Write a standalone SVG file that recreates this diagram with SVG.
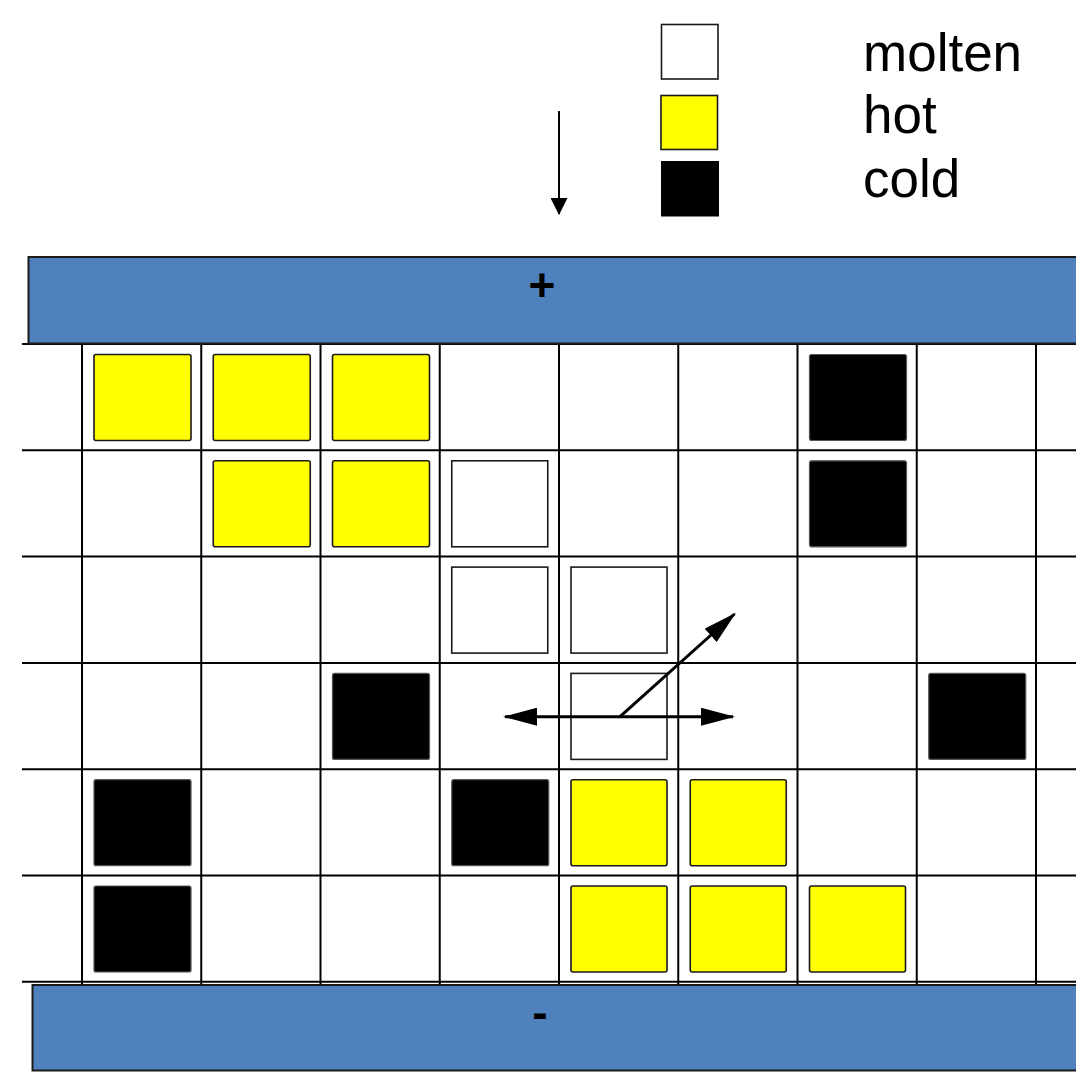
<svg xmlns="http://www.w3.org/2000/svg" width="1076" height="1080" viewBox="0 0 1076 1080">
<style>
  .grid line { stroke:#000; stroke-width:2; }
  .bar { fill:#4f81bd; stroke:#1a1a1a; stroke-width:2; }
  .hot { fill:#ffff00; stroke:#1a1a1a; stroke-width:1.6; }
  .cold { fill:#000; stroke:#555; stroke-width:1.2; }
  .molten { fill:#fff; stroke:#1a1a1a; stroke-width:1.6; }
  .lbl { font-family:"Liberation Sans", Arial, sans-serif; font-size:53px; fill:#000; }
  .sign { font-family:"Liberation Sans", Arial, sans-serif; font-size:46px; font-weight:bold; fill:#000; text-anchor:middle; }
  .arr { stroke:#000; stroke-width:3; fill:none; }
</style>
<defs>
  <marker id="head" viewBox="0 0 34 18" refX="32" refY="9" markerWidth="34" markerHeight="18" markerUnits="userSpaceOnUse" orient="auto-start-reverse">
    <path d="M0,0 L34,9 L0,18 Z" fill="#000"/>
  </marker>
  <marker id="headSmall" viewBox="0 0 17 17" refX="16" refY="8.5" markerWidth="17" markerHeight="17" markerUnits="userSpaceOnUse" orient="auto">
    <path d="M0,0 L17,8.5 L0,17 Z" fill="#000"/>
  </marker>
</defs>
<rect width="1076" height="1080" fill="#fff"/>

<g id="legend">
  <g id="legend-molten">
    <rect class="molten" x="661.5" y="24.5" width="56.5" height="54.5"/>
    <text class="lbl" x="863" y="71">molten</text>
  </g>
  <g id="legend-hot">
    <rect class="hot" x="661" y="95.5" width="56.5" height="54"/>
    <text class="lbl" x="863" y="133">hot</text>
  </g>
  <g id="legend-cold">
    <rect x="661" y="161" width="58" height="55.5" fill="#000"/>
    <text class="lbl" x="863" y="197">cold</text>
  </g>
</g>

<g id="grid" class="grid">
  <line x1="22" y1="344" x2="1076" y2="344"/>
  <line x1="22" y1="450.3" x2="1076" y2="450.3"/>
  <line x1="22" y1="556.6" x2="1076" y2="556.6"/>
  <line x1="22" y1="662.9" x2="1076" y2="662.9"/>
  <line x1="22" y1="769.2" x2="1076" y2="769.2"/>
  <line x1="22" y1="875.5" x2="1076" y2="875.5"/>
  <line x1="22" y1="981.8" x2="1076" y2="981.8"/>
  <line x1="82" y1="344" x2="82" y2="985"/>
  <line x1="201.25" y1="344" x2="201.25" y2="985"/>
  <line x1="320.5" y1="344" x2="320.5" y2="985"/>
  <line x1="439.75" y1="344" x2="439.75" y2="985"/>
  <line x1="559" y1="344" x2="559" y2="985"/>
  <line x1="678.25" y1="344" x2="678.25" y2="985"/>
  <line x1="797.5" y1="344" x2="797.5" y2="985"/>
  <line x1="916.75" y1="344" x2="916.75" y2="985"/>
  <line x1="1036" y1="344" x2="1036" y2="985"/>
</g>

<g id="electrode-plus">
  <rect class="bar" x="28.5" y="257" width="1060" height="86.5"/>
  <text class="sign" x="542" y="301">+</text>
</g>
<g id="electrode-minus">
  <rect class="bar" x="32.5" y="985" width="1060" height="85.5"/>
  <text class="sign" x="540" y="1028">-</text>
</g>

<g id="cells">
  <g id="cell-r0-c1"><rect class="hot" x="94" y="354.5" width="97" height="86" rx="2"/></g>
  <g id="cell-r0-c2"><rect class="hot" x="213.25" y="354.5" width="97" height="86" rx="2"/></g>
  <g id="cell-r0-c3"><rect class="hot" x="332.5" y="354.5" width="97" height="86" rx="2"/></g>
  <g id="cell-r0-c7"><rect class="cold" x="809.5" y="354.5" width="97" height="86" rx="2"/></g>

  <g id="cell-r1-c2"><rect class="hot" x="213.25" y="460.8" width="97" height="86" rx="2"/></g>
  <g id="cell-r1-c3"><rect class="hot" x="332.5" y="460.8" width="97" height="86" rx="2"/></g>
  <g id="cell-r1-c4"><rect class="molten" x="451.75" y="460.8" width="96" height="86"/></g>
  <g id="cell-r1-c7"><rect class="cold" x="809.5" y="460.8" width="97" height="86" rx="2"/></g>

  <g id="cell-r2-c4"><rect class="molten" x="451.75" y="567.1" width="96" height="86"/></g>
  <g id="cell-r2-c5"><rect class="molten" x="571" y="567.1" width="96" height="86"/></g>

  <g id="cell-r3-c3"><rect class="cold" x="332.5" y="673.4" width="97" height="86" rx="2"/></g>
  <g id="cell-r3-c5"><rect class="molten" x="571" y="673.4" width="96" height="86"/></g>
  <g id="cell-r3-c8"><rect class="cold" x="928.75" y="673.4" width="97" height="86" rx="2"/></g>

  <g id="cell-r4-c1"><rect class="cold" x="94" y="779.7" width="97" height="86" rx="2"/></g>
  <g id="cell-r4-c4"><rect class="cold" x="451.75" y="779.7" width="97" height="86" rx="2"/></g>
  <g id="cell-r4-c5"><rect class="hot" x="571" y="779.7" width="96" height="86" rx="2"/></g>
  <g id="cell-r4-c6"><rect class="hot" x="690.25" y="779.7" width="96" height="86" rx="2"/></g>

  <g id="cell-r5-c1"><rect class="cold" x="94" y="886" width="97" height="86" rx="2"/></g>
  <g id="cell-r5-c5"><rect class="hot" x="571" y="886" width="96" height="86" rx="2"/></g>
  <g id="cell-r5-c6"><rect class="hot" x="690.25" y="886" width="96" height="86" rx="2"/></g>
  <g id="cell-r5-c7"><rect class="hot" x="809.5" y="886" width="96" height="86" rx="2"/></g>
</g>

<g id="connectors">
  <line x1="559" y1="111" x2="559" y2="214" stroke="#000" stroke-width="2" marker-end="url(#headSmall)"/>
  <line class="arr" x1="505" y1="716.7" x2="733" y2="716.7" marker-start="url(#head)" marker-end="url(#head)"/>
  <line class="arr" x1="620" y1="716.7" x2="734.5" y2="614" marker-end="url(#head)"/>
</g>
</svg>
